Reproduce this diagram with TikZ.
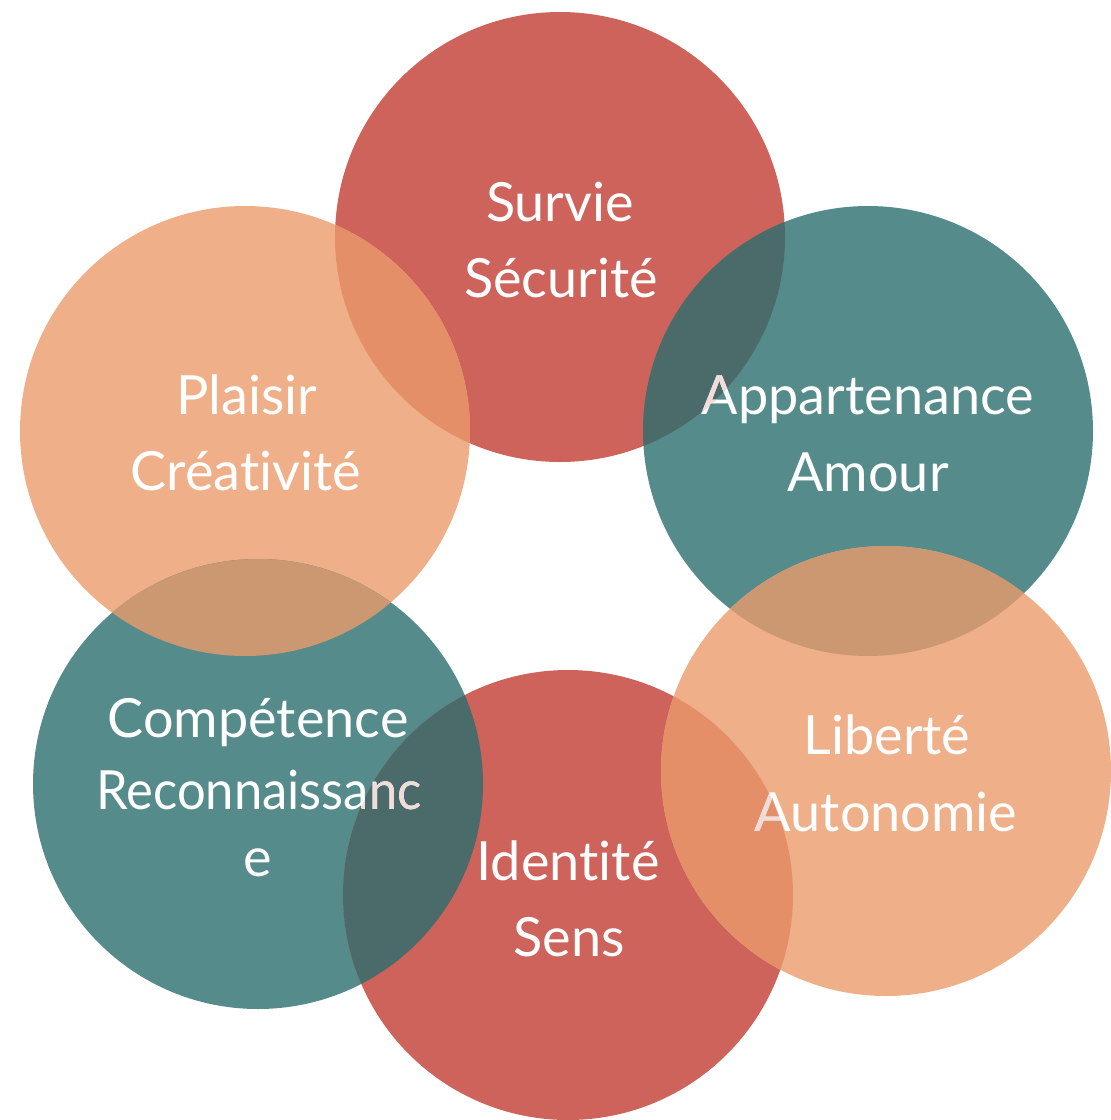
\documentclass[tikz,border=0pt]{standalone}
\usepackage{fontspec}
\setmainfont{Lato}[RawFeature={-liga;-dlig;-clig}]
\definecolor{cred}{RGB}{205,99,91}
\definecolor{cteal}{RGB}{85,139,138}
\definecolor{corange}{RGB}{239,175,136}
\definecolor{cro}{RGB}{228,143,104}
\definecolor{crt}{RGB}{74,107,105}
\definecolor{cto}{RGB}{204,152,113}
\definecolor{cpink}{RGB}{242,220,218}
\newcommand{\narrowtxt}[1]{\scalebox{0.94}[1]{#1}}
\tikzset{
  bubble/.style={circle, minimum size=450pt, inner sep=0pt, draw=none},
  lbl/.style={text=white, font=\fontsize{54}{60}\selectfont, anchor=base, inner sep=0pt},
  tint/.style={lbl, text=cpink}
}
\begin{document}
\begin{tikzpicture}[x=1pt,y=-1pt]
\useasboundingbox (0,0) rectangle (1111,1120);
% circles
\node[bubble, fill=cred]    (r1) at (560,237) {};
\node[bubble, fill=cteal]   (t1) at (868,431) {};
\node[bubble, fill=corange] (o1) at (245,431) {};
\node[bubble, fill=cteal]   (t2) at (258,784) {};
\node[bubble, fill=cred]    (r2) at (568,895) {};
\node[bubble, fill=corange] (o2) at (886,771) {};
% overlaps
\begin{scope}\clip (560,237) circle[radius=225];\fill[cro] (245,431) circle[radius=225];\end{scope}
\begin{scope}\clip (560,237) circle[radius=225];\fill[crt] (868,431) circle[radius=225];\end{scope}
\begin{scope}\clip (868,431) circle[radius=225];\fill[cto] (886,771) circle[radius=225];\end{scope}
\begin{scope}\clip (245,431) circle[radius=225];\fill[cto] (258,784) circle[radius=225];\end{scope}
\begin{scope}\clip (568,895) circle[radius=225];\fill[crt] (258,784) circle[radius=225];\end{scope}
\begin{scope}\clip (568,895) circle[radius=225];\fill[cro] (886,771) circle[radius=225];\end{scope}
% labels
\node[lbl] (s1) at (560,221) {Survie};
\node[lbl] (s2) at (561,297) {Sécurité};
\node[lbl] (p1) at (247,414) {Plaisir};
\node[lbl] (p2) at (246,490) {Créativité};
\node[lbl] (a1) at (868,414) {Appartenance};
\node[lbl] (a2) at (868,491) {Amour};
\node[lbl] (c1) at (258,737) {Compétence};
\node[lbl] (c2) at (259,809) {\narrowtxt{Reconnaissanc}};
\node[lbl] (c3) at (258,876) {e};
\node[lbl] (l1) at (887,754) {Liberté};
\node[lbl] (l2) at (886,831) {Autonomie};
\node[lbl] (i1) at (568,880) {Identité};
\node[lbl] (i2) at (569,956) {Sens};
% tinted parts of labels lying under the red circles
\begin{scope}\clip (560,237) circle[radius=225];
  \node[tint] (a1t) at (868,414) {Appartenance};
\end{scope}
\begin{scope}\clip (568,895) circle[radius=225];
  \node[tint] (c2t) at (259,809) {\narrowtxt{Reconnaissanc}};
  \node[tint] (l2t) at (886,831) {Autonomie};
\end{scope}
\end{tikzpicture}
\end{document}
